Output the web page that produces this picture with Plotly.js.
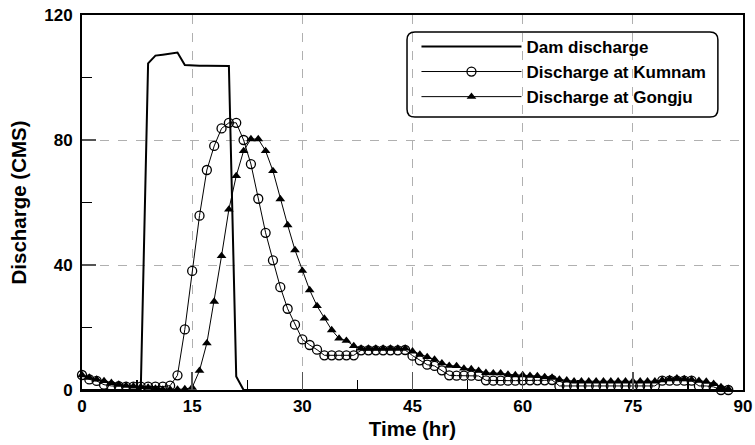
<!DOCTYPE html>
<html>
<head>
<meta charset="utf-8">
<script src="https://cdn.plot.ly/plotly-3.0.1.min.js"></script>
<style>
  html, body { margin: 0; padding: 0; background: #fff; }
  #chart { width: 755px; height: 445px; }
</style>
</head>
<body>
<div id="chart"></div>
<script>
// Time (hr)
const timeHr = [
  0, 1, 2, 3, 4, 5, 6, 7, 8, 9,
  10, 11, 12, 13, 14, 15, 16, 17, 18, 19,
  20, 21, 22, 23, 24, 25, 26, 27, 28, 29,
  30, 31, 32, 33, 34, 35, 36, 37, 38, 39,
  40, 41, 42, 43, 44, 45, 46, 47, 48, 49,
  50, 51, 52, 53, 54, 55, 56, 57, 58, 59,
  60, 61, 62, 63, 64, 65, 66, 67, 68, 69,
  70, 71, 72, 73, 74, 75, 76, 77, 78, 79,
  80, 81, 82, 83, 84, 85, 86, 87, 88
];

// Dam discharge (CMS)
const damDischarge = [
  0, 0, 0, 0, 0, 0, 0, 0, 0, 104.5,
  107.0, 107.3, 107.6, 108.0, 104.0, 103.8, 103.8, 103.8, 103.8, 103.8,
  103.7, 4.3, 0, 0, 0, 0, 0, 0, 0, 0,
  0, 0, 0, 0, 0, 0, 0, 0, 0, 0,
  0, 0, 0, 0, 0, 0, 0, 0, 0, 0,
  0, 0, 0, 0, 0, 0, 0, 0, 0, 0,
  0, 0, 0, 0, 0, 0, 0, 0, 0, 0,
  0, 0, 0, 0, 0, 0, 0, 0, 0, 0,
  0, 0, 0, 0, 0, 0, 0, 0, 0
];

// Discharge at Kumnam (CMS)
const kumnam = [
  4.8, 3.4, 2.9, 1.7, 1.3, 1.2, 1.1, 1.1, 1.1, 1.1,
  1.1, 1.1, 1.4, 4.7, 19.4, 38.1, 55.8, 70.4, 78.1, 83.7,
  85.5, 85.5, 80.0, 72.3, 61.2, 50.3, 41.5, 32.9, 26.0, 20.9,
  16.2, 14.4, 12.9, 11.1, 11.1, 11.1, 11.1, 11.1, 12.7, 12.7,
  12.7, 12.7, 12.7, 12.7, 12.8, 11.0, 9.5, 8.1, 7.7, 6.3,
  4.7, 4.6, 4.6, 4.6, 4.5, 3.1, 3.0, 3.0, 3.0, 3.0,
  3.1, 3.1, 3.1, 3.1, 3.2, 1.3, 1.3, 1.3, 1.3, 1.3,
  1.3, 1.3, 1.3, 1.3, 1.3, 1.3, 1.3, 1.3, 1.3, 3.0,
  3.0, 3.0, 3.0, 3.0, 1.3, 1.3, 1.0, 0.0, 0.0
];

// Discharge at Gongju (CMS)
const gongju = [
  4.8, 4.0, 3.4, 2.9, 2.3, 1.8, 1.4, 1.2, 1.0, 0.8,
  0.5, 0.2, 0.2, 0.2, 0.3, 0.8, 6.2, 15.0, 28.3, 42.9,
  57.8, 68.5, 76.5, 80.3, 80.3, 76.5, 70.1, 61.1, 52.8, 44.8,
  38.2, 32.0, 26.9, 22.9, 19.2, 16.5, 15.8, 14.1, 13.3, 13.3,
  13.3, 13.3, 13.3, 13.3, 13.3, 12.4, 11.4, 10.6, 9.8, 8.6,
  7.8, 7.7, 6.9, 6.7, 6.2, 5.5, 5.4, 5.4, 5.0, 4.8,
  4.8, 4.6, 4.5, 4.2, 4.0, 3.4, 3.1, 2.8, 2.8, 2.8,
  2.8, 2.8, 2.8, 2.8, 2.8, 2.8, 2.8, 2.8, 2.8, 3.2,
  3.5, 3.8, 3.5, 3.3, 3.0, 2.7, 2.0, 1.0, 0.4
];

const seriesNames = ['Dam discharge', 'Discharge at Kumnam', 'Discharge at Gongju'];
const xTitle = 'Time (hr)';
const yTitle = 'Discharge (CMS)';

const FONT = 'Liberation Sans, Arial, Helvetica, sans-serif';

const traces = [
  {
    x: timeHr, y: damDischarge, name: seriesNames[0],
    type: 'scatter', mode: 'lines',
    line: { color: '#000', width: 2 },
    cliponaxis: false
  },
  {
    x: timeHr, y: kumnam, name: seriesNames[1],
    type: 'scatter', mode: 'lines+markers',
    line: { color: '#000', width: 1 },
    marker: { symbol: 'circle-open', size: 9, color: '#000', line: { width: 1.3, color: '#000' } },
    cliponaxis: false
  },
  {
    x: timeHr, y: gongju, name: seriesNames[2],
    type: 'scatter', mode: 'lines+markers',
    line: { color: '#000', width: 1 },
    marker: { symbol: 'triangle-up', size: 8.5, color: '#000' },
    cliponaxis: false
  }
];

// rounded legend frame (paper coords)
const bx0 = 0.4917, bx1 = 0.962, by0 = 0.728, by1 = 0.9547, rx = 0.012, ry = 0.021;
const framePath =
  `M ${bx0 + rx},${by1} L ${bx1 - rx},${by1} Q ${bx1},${by1} ${bx1},${by1 - ry} ` +
  `L ${bx1},${by0 + ry} Q ${bx1},${by0} ${bx1 - rx},${by0} L ${bx0 + rx},${by0} ` +
  `Q ${bx0},${by0} ${bx0},${by0 + ry} L ${bx0},${by1 - ry} Q ${bx0},${by1} ${bx0 + rx},${by1} Z`;

const layout = {
  width: 755, height: 445,
  margin: { l: 82, r: 12, t: 15, b: 55 },
  paper_bgcolor: '#fff', plot_bgcolor: '#fff',
  font: { family: FONT, size: 17, color: '#000', weight: 'bold' },
  showlegend: true,
  legend: {
    x: 0.506, y: 0.963, xanchor: 'left', yanchor: 'top',
    bgcolor: 'rgba(0,0,0,0)', borderwidth: 0,
    font: { family: FONT, size: 17, color: '#000', weight: 'bold' },
    itemwidth: 100, tracegroupgap: 0
  },
  shapes: [{
    type: 'path', xref: 'paper', yref: 'paper', path: framePath,
    line: { color: '#000', width: 1.5 }, fillcolor: 'rgba(0,0,0,0)', layer: 'above'
  }],
  xaxis: {
    range: [0, 90], tick0: 0, dtick: 15,
    ticks: 'inside', ticklen: 18, tickwidth: 1.5, tickcolor: '#555',
    showline: true, mirror: true, linewidth: 2, linecolor: '#000',
    showgrid: true, gridcolor: '#b0b0b0', griddash: 'dash', gridwidth: 1,
    zeroline: false,
    minor: { ticks: 'inside', ticklen: 10, dtick: 7.5, tick0: 0, tickcolor: '#000', tickwidth: 1.5, showgrid: false },
    tickfont: { family: FONT, size: 17, weight: 'bold' },
    title: { text: xTitle, font: { family: FONT, size: 20.5, weight: 'bold' }, standoff: 6 }
  },
  yaxis: {
    range: [0, 120], tick0: 0, dtick: 40,
    ticks: 'inside', ticklen: 14, tickwidth: 1.5, tickcolor: '#555',
    showline: true, mirror: true, linewidth: 2, linecolor: '#000',
    showgrid: true, gridcolor: '#b0b0b0', griddash: 'dash', gridwidth: 1,
    zeroline: false,
    minor: { ticks: 'inside', ticklen: 10, dtick: 20, tick0: 0, tickcolor: '#000', tickwidth: 1.5, showgrid: false },
    tickfont: { family: FONT, size: 17, weight: 'bold' },
    ticklabelstandoff: 4,
    title: { text: yTitle, font: { family: FONT, size: 20.5, weight: 'bold' }, standoff: 12 }
  }
};

Plotly.newPlot('chart', traces, layout, { displayModeBar: false, staticPlot: true });
</script>
</body>
</html>
